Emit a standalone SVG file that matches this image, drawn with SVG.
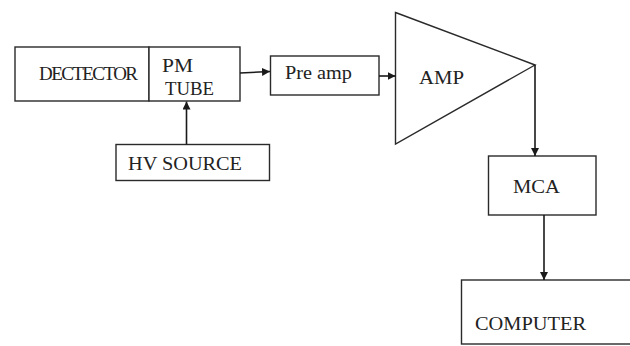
<svg xmlns="http://www.w3.org/2000/svg" width="630" height="346" viewBox="0 0 630 346">
<defs>
<marker id="ah" viewBox="0 0 10 10" refX="10" refY="5" markerWidth="8" markerHeight="8" markerUnits="userSpaceOnUse" orient="auto">
<path d="M0,0 L10,5 L0,10 z" fill="#1a1a1a"/>
</marker>
</defs>
<style>
.box{fill:#fff;stroke:#2a2a2a;stroke-width:1.4}
.t{font-family:"Liberation Serif","Times New Roman",serif;fill:#222;font-size:19px}
.c{fill:none;stroke:#1a1a1a;stroke-width:1.6;marker-end:url(#ah)}
</style>
<rect width="630" height="346" fill="#fff"/>
<g id="detector">
<rect class="box" x="15" y="47" width="134" height="54"/>
<text class="t" x="39" y="80" font-size="16" textLength="99" lengthAdjust="spacing">DECTECTOR</text>
</g>
<g id="pmtube">
<rect class="box" x="149" y="47" width="91" height="54"/>
<text class="t" x="162" y="72" textLength="31" lengthAdjust="spacingAndGlyphs">PM</text>
<text class="t" x="165" y="95" textLength="49" lengthAdjust="spacingAndGlyphs">TUBE</text>
</g>
<g id="preamp">
<rect class="box" x="270.5" y="56" width="108.5" height="39"/>
<text class="t" x="285" y="78.5" textLength="67" lengthAdjust="spacingAndGlyphs">Pre amp</text>
</g>
<g id="hvsource">
<rect class="box" x="116" y="144.5" width="153.5" height="36"/>
<text class="t" x="128" y="169.5" textLength="114" lengthAdjust="spacingAndGlyphs">HV SOURCE</text>
</g>
<g id="amp">
<polygon class="box" points="395.5,12.5 535,65 395.5,144"/>
<text class="t" x="419" y="83.5" textLength="45" lengthAdjust="spacingAndGlyphs">AMP</text>
</g>
<g id="mca">
<rect class="box" x="488.5" y="156" width="107.5" height="59"/>
<text class="t" x="513" y="192.5" textLength="47" lengthAdjust="spacingAndGlyphs">MCA</text>
</g>
<g id="computer">
<rect class="box" x="461.5" y="280" width="180" height="64"/>
<text class="t" x="475" y="330" textLength="111" lengthAdjust="spacingAndGlyphs">COMPUTER</text>
</g>
<g id="connectors">
<path class="c" d="M240,73 L270,71.5"/>
<path class="c" d="M186.5,144.5 L186.5,101.5"/>
<path class="c" d="M379,76 L395.5,76"/>
<path class="c" d="M535,65 L535,156"/>
<path class="c" d="M544,215 L544,280"/>
</g>
</svg>
